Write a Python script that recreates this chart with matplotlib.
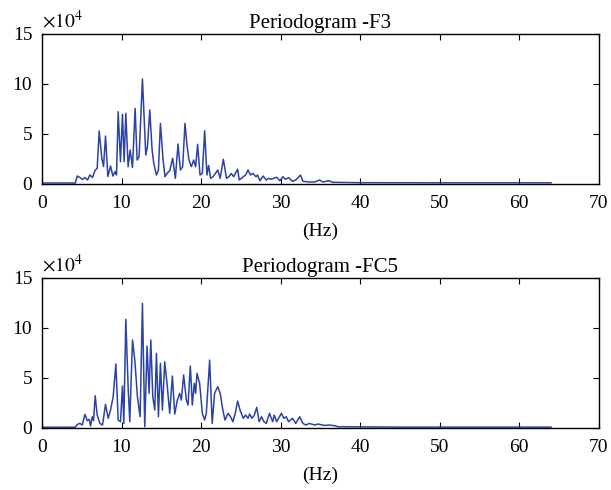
import matplotlib
matplotlib.use("Agg")
import matplotlib.pyplot as plt
import numpy as np

# ---- data (power in units of 1e4) ----
freq_f3 = [0, 4.2, 4.43, 4.77, 5.1, 5.4, 5.73, 6.02, 6.35, 6.69, 6.94, 7.19, 7.53, 7.74, 7.99,
           8.28, 8.62, 8.91, 9.2, 9.37, 9.58, 9.87, 10.12, 10.33, 10.54, 10.83, 11.08, 11.38,
           11.71, 11.96, 12.21, 12.63, 13.05, 13.26, 13.55, 13.84, 14.05, 14.39, 14.64, 14.89,
           15.22, 15.47, 15.72, 16.06, 16.43, 16.77, 17.1, 17.4, 17.69, 17.98, 18.23, 18.48,
           18.78, 19.07, 19.32, 19.57, 19.87, 20.16, 20.45, 20.74, 20.95, 21.2, 21.5, 21.8,
           22.1, 22.4, 22.8, 23.2, 23.5, 23.8, 24.1, 24.3, 24.6, 24.8, 25.3, 25.6, 25.9, 26.2,
           26.5, 26.9, 27.1, 27.4, 27.8, 28.2, 28.5, 28.8, 29.1, 29.5, 29.9, 30.3, 30.6, 31.0,
           31.5, 31.9, 32.5, 32.8, 33.6, 34.3, 34.9, 35.3, 36.1, 36.5, 40.0, 50.0, 64.0]
power_f3 = [0.05, 0.05, 0.75, 0.6, 0.4, 0.6, 0.35, 0.85, 0.6, 1.35, 1.5, 5.25, 2.5, 1.7, 4.75,
            0.7, 1.75, 0.75, 1.2, 0.85, 7.18, 2.18, 6.92, 2.18, 7.02, 1.68, 3.35, 1.6,
            7.52, 2.35, 2.68, 10.45, 2.85, 3.68, 7.35, 3.42, 2.02, 0.85, 1.35, 6.02,
            2.42, 0.68, 1.02, 1.28, 2.52, 0.52, 3.95, 1.35, 1.68, 6.02, 3.85, 2.35,
            1.68, 2.35, 1.68, 3.92, 0.85, 1.02, 5.28, 0.85, 1.8, 0.52, 0.68, 1.0,
            1.35, 0.52, 2.42, 0.52, 0.68, 1.0, 0.68, 1.0, 1.42, 0.35, 0.68, 0.85, 1.35, 0.85,
            1.02, 0.68, 0.85, 0.28, 0.75, 0.35, 0.52, 0.42, 0.52, 0.62, 0.28, 0.68, 0.42, 0.58,
            0.22, 0.35, 0.85, 0.22, 0.15, 0.15, 0.35, 0.15, 0.28, 0.12, 0.08, 0.07, 0.07]

freq_fc5 = [0, 4.2, 4.43, 4.77, 5.06, 5.4, 5.69, 5.94, 6.11, 6.32, 6.48, 6.69, 6.94, 7.28, 7.61,
            7.99, 8.32, 8.62, 8.95, 9.29, 9.58, 9.87, 10.12, 10.29, 10.54, 10.83, 11.04, 11.38,
            11.67, 12.0, 12.34, 12.63, 12.92, 13.21, 13.47, 13.68, 13.93, 14.18, 14.39, 14.64,
            14.89, 15.14, 15.43, 15.72, 16.06, 16.39, 16.69, 17.02, 17.31, 17.52, 17.81, 18.15,
            18.36, 18.65, 18.9, 19.15, 19.32, 19.49, 19.82, 20.16, 20.45, 20.66, 21.08, 21.4,
            21.7, 22.1, 22.4, 22.7, 23.0, 23.4, 23.7, 24.0, 24.3, 24.6, 24.9, 25.3, 25.6, 25.9,
            26.1, 26.4, 26.7, 27.0, 27.3, 27.6, 27.9, 28.2, 28.6, 29.0, 29.2, 29.5, 30.1, 30.4,
            30.7, 31.0, 31.5, 31.9, 32.4, 32.8, 33.2, 33.6, 34.3, 34.7, 35.1, 35.5, 36.1, 36.8,
            37.2, 45.0, 64.0]
power_fc5 = [0.05, 0.05, 0.33, 0.43, 0.27, 1.34, 0.7, 0.84, 0.17, 1.1, 0.7, 3.2, 1.27, 0.43, 0.27,
             2.34, 0.94, 1.77, 3.1, 6.37, 0.77, 0.6, 4.17, 0.43, 10.84, 4.1, 0.6, 8.77,
             6.77, 3.1, 1.1, 12.44, 0.1, 8.17, 3.44, 8.77, 3.1, 1.77, 7.44, 1.1,
             6.44, 1.77, 6.6, 4.44, 1.44, 5.17, 1.37, 2.77, 3.44, 2.77, 5.27, 2.77,
             2.27, 6.17, 2.27, 4.44, 3.44, 5.44, 4.44, 1.44, 0.77, 1.44, 6.77, 0.43,
             3.44, 4.1, 3.44, 1.94, 0.77, 1.44, 1.1, 0.6, 1.44, 2.67, 1.77, 0.94, 1.27, 0.94,
             1.37, 0.94, 1.27, 2.04, 0.6, 1.1, 0.6, 0.43, 1.44, 0.6, 1.27, 0.6, 1.44, 0.94,
             1.1, 0.6, 0.94, 0.43, 1.1, 0.43, 0.27, 0.43, 0.27, 0.37, 0.3, 0.23, 0.27, 0.2,
             0.1, 0.06, 0.06]

titles = ["Periodogram -F3", "Periodogram -FC5"]
xticks = [0, 10, 20, 30, 40, 50, 60, 70]
yticks = [0, 5, 10, 15]

# ---- style ----
plt.rcParams['font.family'] = ['Liberation Serif', 'DejaVu Serif']
plt.rcParams['mathtext.fontset'] = 'stix'
line_color = '#2c43a5'
fs = 14
fs_title = 15

fig = plt.figure(figsize=(6.11, 4.90), dpi=100)
ax1 = fig.add_axes([0.0687, 0.6255, 0.9113, 0.306])
ax2 = fig.add_axes([0.0687, 0.1271, 0.9113, 0.306])

for ax, fr, pw, title in [(ax1, freq_f3, power_f3, titles[0]),
                          (ax2, freq_fc5, power_fc5, titles[1])]:
    ax.plot(fr, pw, color=line_color, lw=1.1)
    ax.set_xlim(0, 70)
    ax.set_ylim(0, 15)
    ax.set_xticks(xticks)
    ax.set_yticks(yticks)
    ax.tick_params(direction='in', top=True, right=True, length=4, width=0.8,
                   labelsize=fs)
    ax.tick_params(axis='x', pad=8)
    ax.tick_params(axis='y', pad=7)
    for s in ax.spines.values():
        s.set_linewidth(1.0)
    ax.set_title(title, fontsize=fs_title, pad=4)
    ax.set_xlabel('(Hz)', fontsize=fs, labelpad=8)
    ax.text(0.0, 1.012, r'$\times10^{4}$', transform=ax.transAxes, fontsize=fs,
            ha='left', va='bottom')

fig.savefig('out.png', dpi=100)
